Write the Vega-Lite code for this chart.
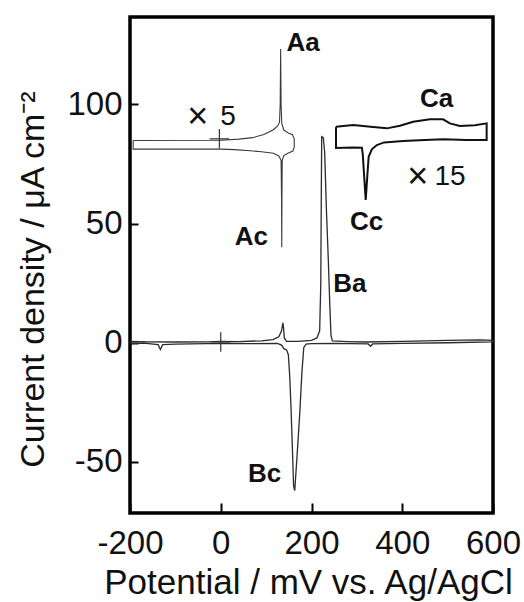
{
  "$schema": "https://vega.github.io/schema/vega-lite/v6.json",
  "width": 363,
  "height": 496,
  "autosize": {"type": "none"},
  "padding": {"left": 130, "top": 17, "right": 31, "bottom": 89},
  "background": "white",
  "config": {
    "view": {"stroke": "black", "strokeWidth": 3.5},
    "font": "Liberation Sans",
    "axis": {
      "domain": false,
      "grid": false,
      "tickColor": "black",
      "tickWidth": 2,
      "labelFont": "Liberation Sans",
      "labelFontSize": 33,
      "labelColor": "#111",
      "labelFlush": false,
      "labelOverlap": false,
      "titleFont": "Liberation Sans",
      "titleFontSize": 34,
      "titleFontWeight": "normal",
      "titleColor": "#111"
    }
  },
  "datasets": {
    "curves": [
      {"s": "main", "i": 1, "x": -200, "y": 0.6},
      {"s": "main", "i": 2, "x": -160, "y": 0.4},
      {"s": "main", "i": 3, "x": -100, "y": 0.3},
      {"s": "main", "i": 4, "x": -30, "y": 0.4},
      {"s": "main", "i": 5, "x": 0, "y": 0.6},
      {"s": "main", "i": 6, "x": 40, "y": 0.5},
      {"s": "main", "i": 7, "x": 90, "y": 0.8},
      {"s": "main", "i": 8, "x": 115, "y": 1.3},
      {"s": "main", "i": 9, "x": 128, "y": 2.5},
      {"s": "main", "i": 10, "x": 134, "y": 5},
      {"s": "main", "i": 11, "x": 137, "y": 8.3},
      {"s": "main", "i": 12, "x": 138.5, "y": 6},
      {"s": "main", "i": 13, "x": 140, "y": 2},
      {"s": "main", "i": 14, "x": 145, "y": 0.6},
      {"s": "main", "i": 15, "x": 170, "y": 0.6},
      {"s": "main", "i": 16, "x": 200, "y": 1},
      {"s": "main", "i": 17, "x": 212, "y": 2},
      {"s": "main", "i": 18, "x": 218, "y": 5},
      {"s": "main", "i": 19, "x": 220.5, "y": 25},
      {"s": "main", "i": 20, "x": 221.5, "y": 60},
      {"s": "main", "i": 21, "x": 222.5, "y": 86.4},
      {"s": "main", "i": 22, "x": 226, "y": 86},
      {"s": "main", "i": 23, "x": 229, "y": 80},
      {"s": "main", "i": 24, "x": 233, "y": 55},
      {"s": "main", "i": 25, "x": 237, "y": 35},
      {"s": "main", "i": 26, "x": 240.5, "y": 15},
      {"s": "main", "i": 27, "x": 243, "y": 3},
      {"s": "main", "i": 28, "x": 246, "y": 0.8},
      {"s": "main", "i": 29, "x": 280, "y": 0.5},
      {"s": "main", "i": 30, "x": 320, "y": 0.3},
      {"s": "main", "i": 31, "x": 400, "y": 0.6},
      {"s": "main", "i": 32, "x": 500, "y": 1},
      {"s": "main", "i": 33, "x": 570, "y": 1.2},
      {"s": "main", "i": 34, "x": 600, "y": 1},
      {"s": "main", "i": 35, "x": 600, "y": 0.4},
      {"s": "main", "i": 36, "x": 500, "y": 0},
      {"s": "main", "i": 37, "x": 400, "y": -0.3},
      {"s": "main", "i": 38, "x": 335, "y": -0.5},
      {"s": "main", "i": 39, "x": 330, "y": -1.5},
      {"s": "main", "i": 40, "x": 325, "y": -0.5},
      {"s": "main", "i": 41, "x": 250, "y": -0.3},
      {"s": "main", "i": 42, "x": 200, "y": -0.4},
      {"s": "main", "i": 43, "x": 188, "y": -0.6},
      {"s": "main", "i": 44, "x": 183, "y": -2},
      {"s": "main", "i": 45, "x": 179, "y": -12},
      {"s": "main", "i": 46, "x": 174, "y": -30},
      {"s": "main", "i": 47, "x": 168, "y": -48},
      {"s": "main", "i": 48, "x": 163, "y": -62},
      {"s": "main", "i": 49, "x": 160.5, "y": -60},
      {"s": "main", "i": 50, "x": 158, "y": -45},
      {"s": "main", "i": 51, "x": 155, "y": -28},
      {"s": "main", "i": 52, "x": 152, "y": -14},
      {"s": "main", "i": 53, "x": 149, "y": -5},
      {"s": "main", "i": 54, "x": 145, "y": -3},
      {"s": "main", "i": 55, "x": 139, "y": -2.5},
      {"s": "main", "i": 56, "x": 134, "y": -1},
      {"s": "main", "i": 57, "x": 125, "y": -0.3},
      {"s": "main", "i": 58, "x": 60, "y": -0.4},
      {"s": "main", "i": 59, "x": 0, "y": -0.3},
      {"s": "main", "i": 60, "x": -100, "y": -0.6},
      {"s": "main", "i": 61, "x": -128, "y": -0.8},
      {"s": "main", "i": 62, "x": -133, "y": -2.8},
      {"s": "main", "i": 63, "x": -138, "y": -0.8},
      {"s": "main", "i": 64, "x": -170, "y": -0.2},
      {"s": "main", "i": 65, "x": -200, "y": -0.3},

      {"s": "x5", "i": 1, "x": -193, "y": 84.8},
      {"s": "x5", "i": 2, "x": 0, "y": 84.9},
      {"s": "x5", "i": 3, "x": 40, "y": 85.4},
      {"s": "x5", "i": 4, "x": 70, "y": 86.0},
      {"s": "x5", "i": 5, "x": 95, "y": 87.3},
      {"s": "x5", "i": 6, "x": 115, "y": 89.2},
      {"s": "x5", "i": 7, "x": 125, "y": 90.8},
      {"s": "x5", "i": 8, "x": 129.5, "y": 92.5},
      {"s": "x5", "i": 9, "x": 131, "y": 100},
      {"s": "x5", "i": 10, "x": 132, "y": 123.2},
      {"s": "x5", "i": 11, "x": 133, "y": 100},
      {"s": "x5", "i": 12, "x": 134.5, "y": 92},
      {"s": "x5", "i": 13, "x": 139, "y": 89.2},
      {"s": "x5", "i": 14, "x": 150, "y": 87.8},
      {"s": "x5", "i": 15, "x": 158, "y": 87.2},
      {"s": "x5", "i": 16, "x": 162, "y": 85.5},
      {"s": "x5", "i": 17, "x": 162, "y": 82},
      {"s": "x5", "i": 18, "x": 159, "y": 80.4},
      {"s": "x5", "i": 19, "x": 148, "y": 79.5},
      {"s": "x5", "i": 20, "x": 139, "y": 78.5},
      {"s": "x5", "i": 21, "x": 135.5, "y": 76.5},
      {"s": "x5", "i": 22, "x": 134.8, "y": 60},
      {"s": "x5", "i": 23, "x": 134.5, "y": 40},
      {"s": "x5", "i": 24, "x": 134, "y": 60},
      {"s": "x5", "i": 25, "x": 133, "y": 76.5},
      {"s": "x5", "i": 26, "x": 128, "y": 78.3},
      {"s": "x5", "i": 27, "x": 116, "y": 79.5},
      {"s": "x5", "i": 28, "x": 90, "y": 80.1},
      {"s": "x5", "i": 29, "x": 65, "y": 80.5},
      {"s": "x5", "i": 30, "x": 30, "y": 81},
      {"s": "x5", "i": 31, "x": 0, "y": 81.2},
      {"s": "x5", "i": 32, "x": -193, "y": 81.2},
      {"s": "x5", "i": 33, "x": -193, "y": 84.8},

      {"s": "x15", "i": 1, "x": 254, "y": 90.6},
      {"s": "x15", "i": 2, "x": 292, "y": 91.3},
      {"s": "x15", "i": 3, "x": 330, "y": 90.6},
      {"s": "x15", "i": 4, "x": 366, "y": 89.9},
      {"s": "x15", "i": 5, "x": 395, "y": 91.0},
      {"s": "x15", "i": 6, "x": 424, "y": 92.7},
      {"s": "x15", "i": 7, "x": 461, "y": 93.7},
      {"s": "x15", "i": 8, "x": 490, "y": 93.7},
      {"s": "x15", "i": 9, "x": 505, "y": 92.0},
      {"s": "x15", "i": 10, "x": 527, "y": 90.9},
      {"s": "x15", "i": 11, "x": 560, "y": 91.2},
      {"s": "x15", "i": 12, "x": 586, "y": 92.0},
      {"s": "x15", "i": 13, "x": 586, "y": 85.0},
      {"s": "x15", "i": 14, "x": 542, "y": 85.0},
      {"s": "x15", "i": 15, "x": 490, "y": 85.3},
      {"s": "x15", "i": 16, "x": 450, "y": 85.0},
      {"s": "x15", "i": 17, "x": 402, "y": 84.6},
      {"s": "x15", "i": 18, "x": 360, "y": 84.0},
      {"s": "x15", "i": 19, "x": 344, "y": 82.9},
      {"s": "x15", "i": 20, "x": 333, "y": 81.1},
      {"s": "x15", "i": 21, "x": 326, "y": 78},
      {"s": "x15", "i": 22, "x": 323, "y": 70},
      {"s": "x15", "i": 23, "x": 319.5, "y": 59.9},
      {"s": "x15", "i": 24, "x": 316, "y": 70},
      {"s": "x15", "i": 25, "x": 313, "y": 79},
      {"s": "x15", "i": 26, "x": 311, "y": 81.8},
      {"s": "x15", "i": 27, "x": 290, "y": 81.9},
      {"s": "x15", "i": 28, "x": 254, "y": 81.7},
      {"s": "x15", "i": 29, "x": 254, "y": 90.6}
    ],
    "peaks": [
      {"t": "Aa", "x": 145, "y": 122.5},
      {"t": "Ac", "x": 31, "y": 41.0},
      {"t": "Ba", "x": 248, "y": 21.4},
      {"t": "Bc", "x": 60, "y": -58.3},
      {"t": "Ca", "x": 439, "y": 99.0},
      {"t": "Cc", "x": 285, "y": 47.3}
    ],
    "times": [
      {"t": "×", "x": -74, "y": 90.2},
      {"t": "×", "x": 411, "y": 65.0}
    ],
    "factors": [
      {"t": "5", "x": -1, "y": 91.3},
      {"t": "15", "x": 471, "y": 66.1}
    ],
    "origins": [
      {"x": -3, "y": 85.5},
      {"x": 0, "y": 0.3}
    ]
  },
  "encoding": {
    "x": {
      "field": "x",
      "type": "quantitative",
      "scale": {"domain": [-200, 600], "nice": false, "zero": false},
      "axis": {
        "values": [-200, 0, 200, 400, 600],
        "tickSize": -10,
        "labelPadding": 24,
        "labelExpr": "datum.value < 0 ? '-' + abs(datum.value) : '' + datum.value",
        "title": "Potential / mV vs. Ag/AgCl",
        "titleFontSize": 35,
        "titleBaseline": "alphabetic",
        "titleY": 80,
        "titleX": 178
      }
    },
    "y": {
      "field": "y",
      "type": "quantitative",
      "scale": {"domain": [-71.4, 136.6], "nice": false, "zero": false},
      "axis": {
        "values": [-50, 0, 50, 100],
        "tickSize": -8,
        "labelPadding": 16,
        "labelExpr": "datum.value < 0 ? '-' + abs(datum.value) : '' + datum.value",
        "title": "Current density / μA cm⁻²",
        "titleBaseline": "alphabetic",
        "titleX": -87,
        "titleY": 262
      }
    }
  },
  "layer": [
    {
      "data": {"name": "curves"},
      "transform": [{"filter": "datum.s === 'main'"}],
      "mark": {"type": "line", "stroke": "#2b2b2b", "strokeWidth": 1.3},
      "encoding": {"order": {"field": "i", "type": "quantitative"}}
    },
    {
      "data": {"name": "curves"},
      "transform": [{"filter": "datum.s === 'x5'"}],
      "mark": {"type": "line", "stroke": "#3a3a3a", "strokeWidth": 1.1},
      "encoding": {"order": {"field": "i", "type": "quantitative"}}
    },
    {
      "data": {"name": "curves"},
      "transform": [{"filter": "datum.s === 'x15'"}],
      "mark": {"type": "line", "stroke": "#111", "strokeWidth": 2},
      "encoding": {"order": {"field": "i", "type": "quantitative"}}
    },
    {
      "data": {"name": "origins"},
      "mark": {"type": "point", "shape": "M-1,0H1M0,-1V1", "size": 380, "filled": false, "stroke": "#333", "strokeWidth": 1.2, "opacity": 1}
    },
    {
      "data": {"name": "peaks"},
      "mark": {"type": "text", "align": "left", "baseline": "alphabetic", "font": "Liberation Sans", "fontSize": 26, "fontWeight": "bold", "color": "#111"},
      "encoding": {"text": {"field": "t"}}
    },
    {
      "data": {"name": "times"},
      "mark": {"type": "text", "align": "left", "baseline": "alphabetic", "font": "Liberation Sans", "fontSize": 36, "color": "#111"},
      "encoding": {"text": {"field": "t"}}
    },
    {
      "data": {"name": "factors"},
      "mark": {"type": "text", "align": "left", "baseline": "alphabetic", "font": "Liberation Sans", "fontSize": 28, "color": "#111"},
      "encoding": {"text": {"field": "t"}}
    }
  ]
}
